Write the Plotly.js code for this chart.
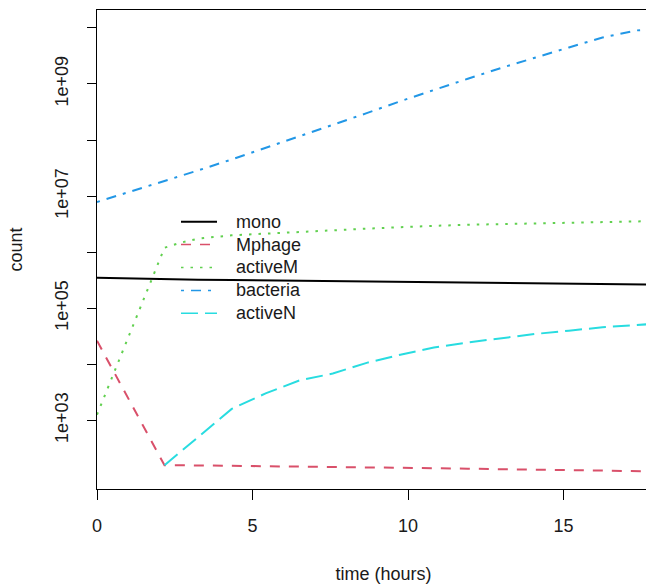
<!DOCTYPE html>
<html>
<head>
<meta charset="utf-8">
<script src="https://cdn.plot.ly/plotly-3.0.1.min.js"></script>
<style>
  html, body { margin: 0; padding: 0; background: #fff; overflow: hidden; }
  #frame { width: 646px; height: 584px; overflow: hidden; position: relative; }
  #chart { width: 690px; height: 584px; }
</style>
</head>
<body>
<div id="frame"><div id="chart"></div></div>
<script>
// Simulation output: time in hours, counts per compartment
const time     = [0, 2.17, 2.7, 3.25, 4.33, 5.42, 6.5, 7.58, 8.67, 9.75, 10.83, 11.92, 13, 14.08, 15.17, 16.25, 17.33, 18.42];
const mono     = [3.51e5, 3.27e5, 3.25e5, 3.23e5, 3.18e5, 3.14e5, 3.10e5, 3.05e5, 3.01e5, 2.96e5, 2.92e5, 2.88e5, 2.83e5, 2.79e5, 2.74e5, 2.70e5, 2.65e5, 2.62e5];
const Mphage   = [2.63e4, 158, 158, 157, 155, 153, 151, 148, 145, 143, 140, 137, 134, 132, 129, 127, 125, 122];
const activeM  = [1260, 1.20e6, 1.48e6, 1.74e6, 2.00e6, 2.16e6, 2.29e6, 2.45e6, 2.63e6, 2.82e6, 2.95e6, 3.08e6, 3.16e6, 3.24e6, 3.31e6, 3.43e6, 3.55e6, 3.63e6];
const bacteria = [7.85e6, 1.83e7, 2.28e7, 2.87e7, 4.51e7, 7.21e7, 1.15e8, 1.85e8, 3.02e8, 4.93e8, 7.89e8, 1.24e9, 1.94e9, 2.98e9, 4.49e9, 6.76e9, 9.02e9, 1.0e10];
// activeN is zero at t = 0, which has no place on a log axis
const activeN  = [null, 158, 279, 501, 1600, 3020, 5130, 6840, 1.06e4, 1.48e4, 2.00e4, 2.45e4, 2.95e4, 3.47e4, 3.98e4, 4.57e4, 5.01e4, 5.50e4];

const seriesNames = ["mono", "Mphage", "activeM", "bacteria", "activeN"];
const yTickVals   = [1e3, 1e4, 1e5, 1e6, 1e7, 1e8, 1e9, 1e10];
const yTickText   = ["1e+03", "", "1e+05", "", "1e+07", "", "1e+09", ""];
const xTickVals   = [0, 5, 10, 15];

const seriesData = [mono, Mphage, activeM, bacteria, activeN];
const styles = [
  { color: "#000000", dash: "solid" },
  { color: "#D9506A", dash: "10px,9px" },
  { color: "#61D04F", dash: "2.5px,7px" },
  { color: "#2297E6", dash: "3px,7px,10px,7px" },
  { color: "#28DCE0", dash: "17px,7px" }
];

const W = 690, H = 584;
const margin = { l: 97, r: 20, t: 10, b: 95 };
const plotW = W - margin.l - margin.r;
const plotH = H - margin.t - margin.b;
// pixel position on the page -> paper coordinates
const px = v => (v - margin.l) / plotW;
const py = v => (H - margin.b - v) / plotH;

const traces = seriesData.map((vals, i) => ({
  type: "scatter",
  mode: "lines",
  name: seriesNames[i],
  x: time,
  y: vals,
  connectgaps: false,
  line: { color: styles[i].color, dash: styles[i].dash, width: 2 },
  hoverinfo: "x+y+name"
}));

const font = { family: "Liberation Sans, Arial, sans-serif", size: 18, color: "#1a1a1a" };

// Borderless key in the middle-left of the panel
const keyTop = 221.7, keyStep = 22.9;
const keyShapes = seriesNames.map((n, i) => ({
  type: "line", xref: "paper", yref: "paper",
  x0: px(181), x1: px(217),
  y0: py(keyTop + i * keyStep), y1: py(keyTop + i * keyStep),
  line: { color: styles[i].color, dash: styles[i].dash, width: i === 0 ? 2 : 1.5 }
}));
const keyLabels = seriesNames.map((n, i) => ({
  xref: "paper", yref: "paper",
  x: px(234), y: py(keyTop + i * keyStep),
  xanchor: "left", yanchor: "middle",
  text: n, showarrow: false,
  font: { family: font.family, size: 18, color: "#1a1a1a" }
}));

const layout = {
  width: W,
  height: H,
  margin: margin,
  paper_bgcolor: "#ffffff",
  plot_bgcolor: "#ffffff",
  font: font,
  showlegend: false,
  shapes: keyShapes,
  annotations: keyLabels,
  xaxis: {
    range: [0, 18.42],
    tickmode: "array",
    tickvals: xTickVals,
    ticks: "outside",
    ticklen: 10,
    tickwidth: 1,
    tickcolor: "#000",
    showline: true,
    mirror: true,
    linecolor: "#000",
    linewidth: 1,
    showgrid: false,
    zeroline: false,
    ticklabelstandoff: 10,
    title: { text: "time (hours)", font: font, standoff: 32 }
  },
  yaxis: {
    type: "log",
    range: [1.775, 10.32],
    tickmode: "array",
    tickvals: yTickVals,
    ticktext: yTickText,
    tickangle: -90,
    ticks: "outside",
    ticklen: 9,
    tickwidth: 1,
    tickcolor: "#000",
    showline: true,
    mirror: true,
    linecolor: "#000",
    linewidth: 1,
    showgrid: false,
    zeroline: false,
    ticklabelstandoff: 12,
    title: { text: "count", font: font, standoff: 24 }
  }
};

Plotly.newPlot("chart", traces, layout, { displayModeBar: false, staticPlot: true });
</script>
</body>
</html>
